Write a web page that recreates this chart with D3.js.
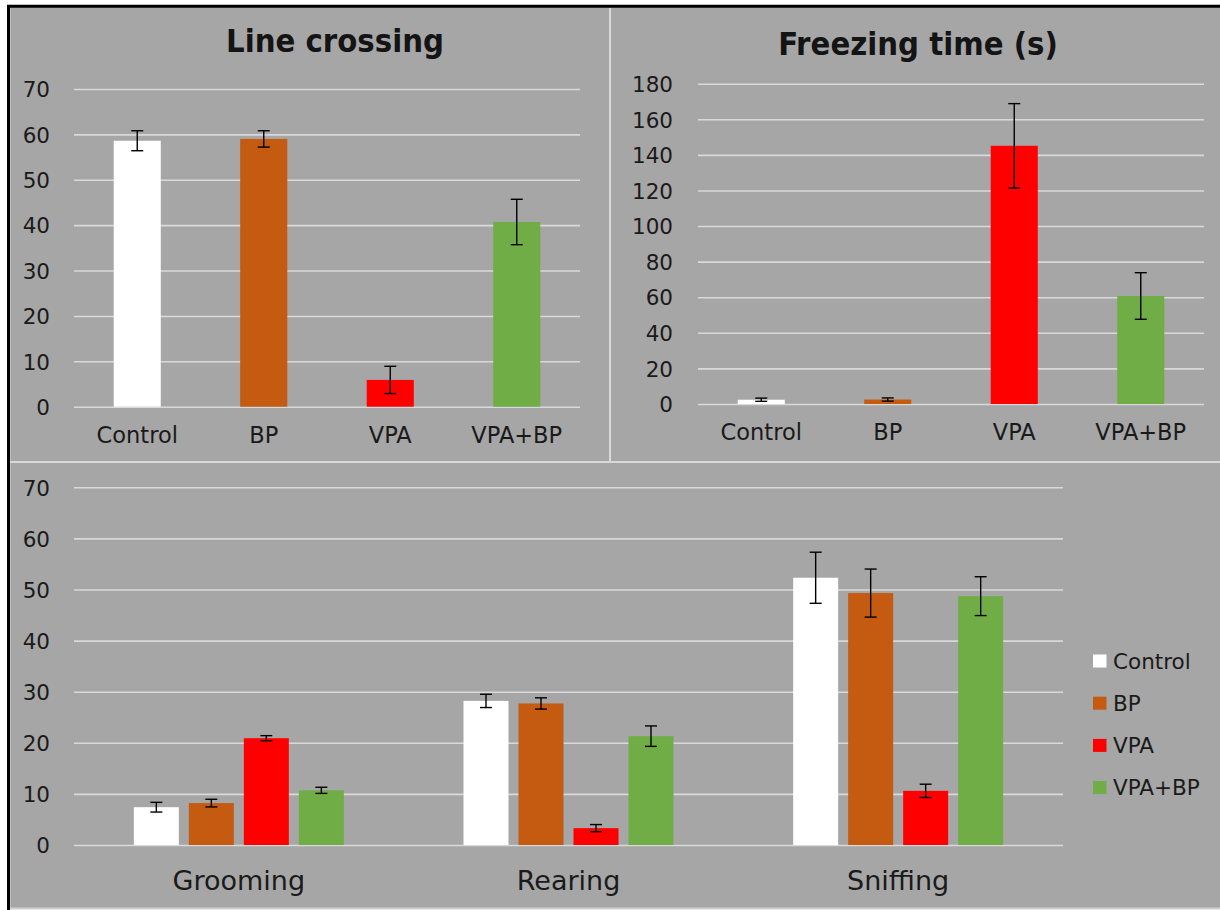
<!DOCTYPE html>
<html>
<head>
<meta charset="utf-8">
<script src="https://cdn.jsdelivr.net/npm/d3@7"></script>
<style>
  body { margin: 0; background: #fff; }
  svg { display: block; }
</style>
</head>
<body>
<svg id="chart" width="1220" height="910"></svg>
<script>
// groups / series
const groups = ["Control", "BP", "VPA", "VPA+BP"];
const behaviours = ["Grooming", "Rearing", "Sniffing"];

// line crossing (mean, error)
const lineCrossing = [58.6, 59.0, 5.9, 40.7];
const lineCrossingErr = [2.2, 1.8, 3.0, 5.0];

// freezing time (s)
const freezing = [2.4, 2.5, 145.1, 60.7];
const freezingErr = [0.9, 0.9, 23.7, 13.1];

// grooming / rearing / sniffing per group
const grooming = [7.4, 8.2, 20.9, 10.7];
const groomingErr = [0.95, 0.75, 0.5, 0.6];
const rearing = [28.2, 27.7, 3.3, 21.3];
const rearingErr = [1.3, 1.1, 0.7, 2.0];
const sniffing = [52.3, 49.3, 10.6, 48.7];
const sniffingErr = [5.0, 4.7, 1.3, 3.8];

// tick labels
const ticks70 = [0, 10, 20, 30, 40, 50, 60, 70];
const ticks180 = [0, 20, 40, 60, 80, 100, 120, 140, 160, 180];

const colors = ["#ffffff", "#c55a11", "#ff0000", "#70ad47"];
const textColor = "#1a1a1a";
const gridColor = "#d9d9d9";
const font = "'DejaVu Sans', sans-serif";

const svg = d3.select("#chart");

// background + frame
svg.append("rect")
  .attr("x", 9).attr("y", 7)
  .attr("width", 1211).attr("height", 901)
  .attr("fill", "#a6a6a6");
svg.append("path")
  .attr("d", "M8.5,910 L8.5,6.2 L1220,6.2")
  .attr("fill", "none")
  .attr("stroke", "#000")
  .attr("stroke-width", 3);
svg.append("line")
  .attr("x1", 10.5).attr("x2", 10.5).attr("y1", 8).attr("y2", 907)
  .attr("stroke", "#bdbdbd").attr("stroke-width", 1);
svg.append("line")
  .attr("x1", 10).attr("x2", 1220).attr("y1", 908.5).attr("y2", 908.5)
  .attr("stroke", "#d0d0d0").attr("stroke-width", 2);
// panel dividers
svg.append("line")
  .attr("x1", 610).attr("x2", 610).attr("y1", 8).attr("y2", 462)
  .attr("stroke", gridColor).attr("stroke-width", 2);
svg.append("line")
  .attr("x1", 10).attr("x2", 1220).attr("y1", 462).attr("y2", 462)
  .attr("stroke", gridColor).attr("stroke-width", 2);

function styleYAxis(g) {
  g.select(".domain").remove();
  g.selectAll(".tick line")
    .attr("stroke", gridColor)
    .attr("stroke-width", 1.6);
  g.selectAll(".tick text")
    .attr("fill", textColor)
    .attr("font-family", font)
    .attr("font-size", "21.5px")
    .attr("dy", "0.36em");
}

function styleXAxis(g, size) {
  g.select(".domain").remove();
  g.selectAll(".tick line").remove();
  g.selectAll(".tick text")
    .attr("fill", textColor)
    .attr("font-family", font)
    .attr("font-size", size);
}

function errorBar(g, cx, yTop, yBot) {
  g.append("line")
    .attr("x1", cx).attr("x2", cx).attr("y1", yTop).attr("y2", yBot)
    .attr("stroke", "#000").attr("stroke-width", 1.4);
  [yTop, yBot].forEach(function(yy) {
    g.append("line")
      .attr("x1", cx - 6).attr("x2", cx + 6).attr("y1", yy).attr("y2", yy)
      .attr("stroke", "#000").attr("stroke-width", 1.4);
  });
}

// simple 4-bar panel
function simplePanel(opts) {
  const x = d3.scaleBand()
    .domain(groups)
    .range(opts.xRange)
    .paddingInner(0.628)
    .paddingOuter(0.314);
  const y = d3.scaleLinear()
    .domain([0, d3.max(opts.ticks)])
    .range(opts.yRange);
  const w = opts.xRange[1] - opts.xRange[0];

  svg.append("g")
    .attr("transform", "translate(" + opts.xRange[0] + ",0)")
    .call(d3.axisLeft(y).tickValues(opts.ticks).tickSize(-w).tickPadding(opts.tickPad).tickFormat(d3.format("d")))
    .call(styleYAxis);

  svg.append("g")
    .attr("transform", "translate(0," + opts.yRange[0] + ")")
    .call(d3.axisBottom(x).tickSize(0).tickPadding(opts.catPad))
    .call(function(g) { styleXAxis(g, "22.5px"); });

  const data = groups.map(function(gname, i) {
    return { name: gname, v: opts.values[i], e: opts.errors[i], c: colors[i] };
  });

  svg.append("g").selectAll("rect")
    .data(data)
    .enter()
    .append("rect")
    .attr("x", function(d) { return x(d.name); })
    .attr("y", function(d) { return y(d.v); })
    .attr("width", x.bandwidth())
    .attr("height", function(d) { return y(0) - y(d.v); })
    .attr("fill", function(d) { return d.c; });

  const eg = svg.append("g");
  data.forEach(function(d) {
    errorBar(eg, x(d.name) + x.bandwidth() / 2, y(d.v + d.e), y(d.v - d.e));
  });

  svg.append("text")
    .attr("x", opts.titleX)
    .attr("y", opts.titleY)
    .attr("text-anchor", "middle")
    .attr("font-family", "'DejaVu Sans Condensed', 'DejaVu Sans', sans-serif")
    .attr("font-stretch", "condensed")
    .attr("font-weight", "bold")
    .attr("font-size", "32.5px")
    .attr("fill", "#141414")
    .text(opts.title);
}

simplePanel({
  title: "Line crossing", titleX: 335, titleY: 52,
  values: lineCrossing, errors: lineCrossingErr, ticks: ticks70,
  xRange: [74, 580], yRange: [406.7, 89], tickPad: 24, catPad: 20.5
});

simplePanel({
  title: "Freezing time (s)", titleX: 918, titleY: 55,
  values: freezing, errors: freezingErr, ticks: ticks180,
  xRange: [698, 1204], yRange: [404, 83.7], tickPad: 25, catPad: 20
});

// grouped panel
(function() {
  const xRange = [74, 1063];
  const yRange = [845, 487.3];
  const series = [grooming, rearing, sniffing];
  const seriesErr = [groomingErr, rearingErr, sniffingErr];

  const x0 = d3.scaleBand()
    .domain(behaviours)
    .range(xRange)
    .paddingInner(0.363)
    .paddingOuter(0.1815);
  const x1 = d3.scaleBand()
    .domain(groups)
    .range([0, x0.bandwidth()])
    .paddingInner(0.182)
    .paddingOuter(0);
  const y = d3.scaleLinear().domain([0, 70]).range(yRange);

  svg.append("g")
    .attr("transform", "translate(" + xRange[0] + ",0)")
    .call(d3.axisLeft(y).tickValues(ticks70).tickSize(-(xRange[1] - xRange[0])).tickPadding(24))
    .call(styleYAxis);

  svg.append("g")
    .attr("transform", "translate(0," + yRange[0] + ")")
    .call(d3.axisBottom(x0).tickSize(0).tickPadding(25.5))
    .call(function(g) { styleXAxis(g, "27px"); });

  const gg = svg.append("g").selectAll("g")
    .data(behaviours)
    .enter()
    .append("g")
    .attr("transform", function(d) { return "translate(" + x0(d) + ",0)"; });

  gg.selectAll("rect")
    .data(function(b, bi) {
      return groups.map(function(gname, i) {
        return { name: gname, v: series[bi][i], e: seriesErr[bi][i], c: colors[i] };
      });
    })
    .enter()
    .append("rect")
    .attr("x", function(d) { return x1(d.name); })
    .attr("y", function(d) { return y(d.v); })
    .attr("width", x1.bandwidth())
    .attr("height", function(d) { return y(0) - y(d.v); })
    .attr("fill", function(d) { return d.c; });

  const eg = svg.append("g");
  behaviours.forEach(function(b, bi) {
    groups.forEach(function(gname, i) {
      const v = series[bi][i], e = seriesErr[bi][i];
      errorBar(eg, x0(b) + x1(gname) + x1.bandwidth() / 2, y(v + e), y(v - e));
    });
  });

  // legend
  const lg = svg.append("g").attr("transform", "translate(1093,661)");
  const items = lg.selectAll("g")
    .data(groups)
    .enter()
    .append("g")
    .attr("transform", function(d, i) { return "translate(0," + (i * 42.2) + ")"; });
  items.append("rect")
    .attr("x", 0).attr("y", -6.5)
    .attr("width", 13.5).attr("height", 13)
    .attr("fill", function(d, i) { return colors[i]; });
  items.append("text")
    .attr("x", 20).attr("y", 0)
    .attr("dy", "0.36em")
    .attr("font-family", font)
    .attr("font-size", "21.5px")
    .attr("fill", textColor)
    .text(function(d) { return d; });
})();
</script>
</body>
</html>
